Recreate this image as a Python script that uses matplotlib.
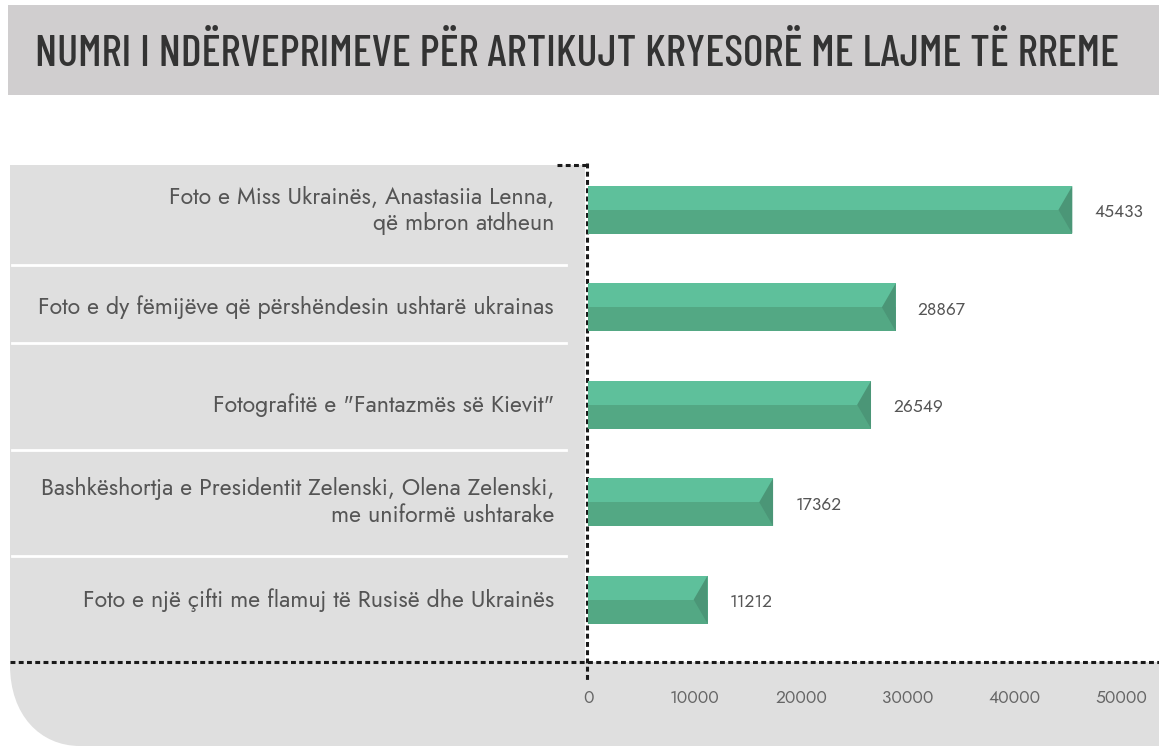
import matplotlib.pyplot as plt
from matplotlib import font_manager
from matplotlib.patches import Rectangle, PathPatch, Polygon
from matplotlib.path import Path

title = "NUMRI I NDËRVEPRIMEVE PËR ARTIKUJT KRYESORË ME LAJME TË RREME"
labels = [
    "Foto e Miss Ukrainës, Anastasiia Lenna,\nqë mbron atdheun",
    "Foto e dy fëmijëve që përshëndesin ushtarë ukrainas",
    "Fotografitë e \"Fantazmës së Kievit\"",
    "Bashkëshortja e Presidentit Zelenski, Olena Zelenski,\nme uniformë ushtarake",
    "Foto e një çifti me flamuj të Rusisë dhe Ukrainës",
]
values = [45433, 28867, 26549, 17362, 11212]
xticks = [0, 10000, 20000, 30000, 40000, 50000]

installed = {f.name for f in font_manager.fontManager.ttflist}


def pick(cands):
    for c in cands:
        if c in installed:
            return c
    return "DejaVu Sans"


title_font = pick(["Barlow Condensed", "Roboto Condensed", "Archivo Narrow",
                   "Asap Condensed", "Liberation Sans Narrow"])
body_font = pick(["Jost", "Lato"])

W, H = 1159, 746
fig = plt.figure(figsize=(W / 100, H / 100), dpi=100)
renderer = fig.canvas.get_renderer()

# background layer in pixel coordinates (y down)
bg = fig.add_axes([0, 0, 1, 1])
bg.set_xlim(0, W)
bg.set_ylim(H, 0)
bg.axis("off")

bg.add_patch(Rectangle((8, 5), W - 8, 90, color="#d0cecf", lw=0))
t = bg.text(35, 54, title, fontsize=30, family=title_font, fontweight="medium",
            color="#333333", va="center", ha="left")
t.set_fontsize(30 * 1085 / t.get_window_extent(renderer).width)

verts = [(10, 165), (585, 165), (585, 662), (W, 662), (W, H), (80, H),
         (40, H), (10, 715), (10, 665), (10, 165)]
codes = [Path.MOVETO, Path.LINETO, Path.LINETO, Path.LINETO, Path.LINETO,
         Path.LINETO, Path.CURVE4, Path.CURVE4, Path.CURVE4, Path.CLOSEPOLY]
bg.add_patch(PathPatch(Path(verts, codes), color="#dfdfdf", lw=0))

dots = dict(color="#1a1a1a", lw=2.2, linestyle=(0, (1.6, 1.1)))
bg.plot([10, W], [662, 662], **dots)
bg.plot([587, 587], [163, 680], **dots)
bg.plot([557, 587], [165, 165], **dots)

# chart axes: 0 at x=588, 50000 at x=1121, rows between y=165 and y=662
ax = fig.add_axes([588 / W, (H - 662) / H, (1121 - 588) / W, (662 - 165) / H])
ax.patch.set_alpha(0)
ax.set_xlim(0, 50000)
ax.set_ylim(4.64, -0.46)
for s in ax.spines.values():
    s.set_visible(False)

ys = list(range(len(values)))
bh = 0.49
ax.barh([y - bh / 4 for y in ys], values, height=bh / 2, color="#5ec09b", lw=0)
ax.barh([y + bh / 4 for y in ys], values, height=bh / 2, color="#53a884", lw=0)
notch = 1300
for y, v in zip(ys, values):
    ax.add_patch(Polygon([(v, y - bh / 2), (v - notch, y), (v, y + bh / 2)],
                         closed=True, color="#4b9677", lw=0))
    ax.text(v + 2100, y + 0.03, str(v), fontsize=12.5, family=body_font,
            color="#555555", va="center")

# row separators
for b in [0.57, 1.37, 2.46, 3.55]:
    ax.plot([-54000, -2100], [b, b], color="white", lw=2, clip_on=False)

# label size fitted so the longest one-line label spans ~515 px
probe = fig.text(0, 0, labels[1], fontsize=14, family=body_font)
lab_size = 14 * 515 / probe.get_window_extent(renderer).width
probe.remove()

for y, lab in zip(ys, labels):
    ax.text(-3200, y, lab, fontsize=lab_size, family=body_font, color="#555555",
            ha="right", va="center", linespacing=1.2)

ax.set_yticks([])
ax.set_xticks(xticks)
ax.set_xticklabels([str(t) for t in xticks], family=body_font)
ax.tick_params(axis="x", length=0, pad=20, labelsize=12.5, labelcolor="#666666")

fig.savefig("out.png", dpi=100)
